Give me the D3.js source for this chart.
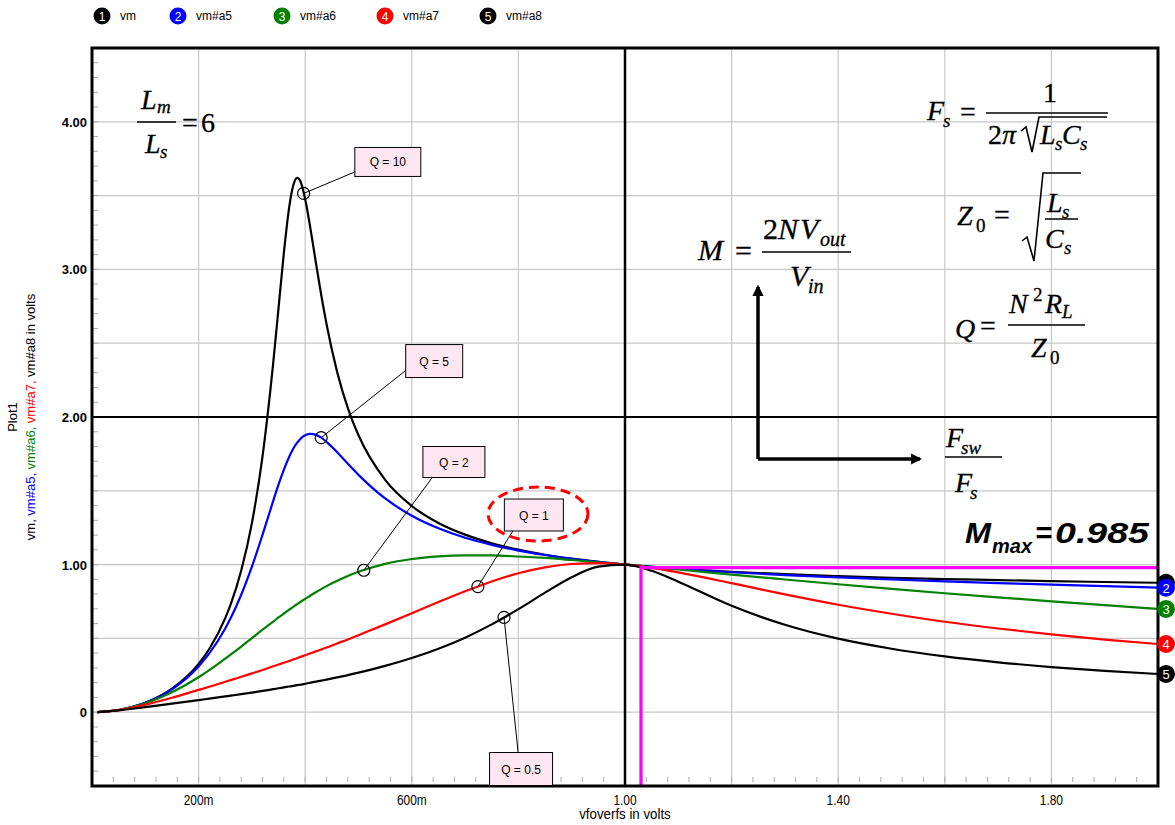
<!DOCTYPE html>
<html><head><meta charset="utf-8">
<script src="https://cdn.jsdelivr.net/npm/d3@7"></script>
<style>body{margin:0;background:#fff} svg{display:block}</style>
</head><body><svg id="c" width="1175" height="825" font-family="'Liberation Sans',Arial,sans-serif"></svg>
<script>
// ---- data ----
const fn = [0.01,0.05,0.1,0.15,0.2,0.22,0.25,0.26,0.28,0.3,0.32,0.34,0.35,0.36,0.37,0.375,0.38,0.385,0.39,0.4,0.41,0.42,0.43,0.44,0.46,0.48,0.5,0.55,0.6,0.65,0.7,0.75,0.8,0.85,0.9,0.95,1.0,1.05,1.1,1.2,1.3,1.4,1.5,1.6,1.7,1.8,1.9,2.0];
const vm   = [0.001,0.015,0.064,0.159,0.327,0.428,0.637,0.729,0.960,1.281,1.735,2.366,2.739,3.113,3.422,3.530,3.596,3.621,3.605,3.476,3.273,3.047,2.828,2.630,2.304,2.060,1.876,1.574,1.397,1.282,1.203,1.145,1.101,1.067,1.040,1.018,1.000,0.985,0.972,0.951,0.935,0.922,0.911,0.902,0.895,0.888,0.882,0.877];
const vmA5 = [0.001,0.015,0.064,0.155,0.310,0.398,0.567,0.636,0.796,0.986,1.203,1.432,1.543,1.644,1.731,1.768,1.800,1.826,1.848,1.876,1.885,1.879,1.860,1.832,1.761,1.683,1.608,1.448,1.331,1.246,1.182,1.134,1.095,1.065,1.039,1.018,1.000,0.985,0.971,0.948,0.929,0.913,0.900,0.887,0.875,0.865,0.854,0.844];
const vmA6 = [0.001,0.015,0.060,0.135,0.237,0.285,0.363,0.390,0.445,0.502,0.559,0.614,0.642,0.668,0.695,0.707,0.720,0.732,0.745,0.768,0.791,0.813,0.834,0.854,0.890,0.923,0.951,1.005,1.038,1.056,1.063,1.062,1.055,1.045,1.031,1.016,1.000,0.983,0.967,0.932,0.899,0.867,0.836,0.806,0.778,0.751,0.725,0.700];
const vmA7 = [0.001,0.014,0.051,0.098,0.151,0.172,0.206,0.217,0.240,0.263,0.286,0.311,0.323,0.335,0.347,0.354,0.360,0.366,0.373,0.386,0.399,0.412,0.425,0.438,0.466,0.493,0.522,0.595,0.670,0.746,0.819,0.886,0.941,0.981,1.004,1.010,1.000,0.978,0.947,0.874,0.798,0.728,0.667,0.613,0.567,0.527,0.492,0.462];
const vmA8 = [0.001,0.012,0.035,0.058,0.082,0.092,0.107,0.112,0.122,0.133,0.144,0.156,0.162,0.168,0.174,0.177,0.180,0.183,0.186,0.193,0.200,0.207,0.214,0.221,0.236,0.251,0.268,0.314,0.367,0.430,0.505,0.595,0.698,0.810,0.915,0.986,1.000,0.958,0.884,0.721,0.592,0.498,0.430,0.378,0.338,0.306,0.280,0.259];
const seriesNames  = ["vm","vm#a5","vm#a6","vm#a7","vm#a8"];
const seriesColors = ["#000000","#0000ff","#008000","#ff0000","#000000"];
const seriesValues = [vm, vmA5, vmA6, vmA7, vmA8];
const xTickValues = [0.2,0.6,1.0,1.4,1.8];
const xTickLabels = ["200m","600m","1.00","1.40","1.80"];
const yTickValues = [0,1,2,3,4];
const yTickLabels = ["0","1.00","2.00","3.00","4.00"];
const qLabels  = ["Q = 10","Q = 5","Q = 2","Q = 1","Q = 0.5"];
const qPointX  = [0.397,0.43,0.51,0.724,0.773];
const qBoxX    = [0.555,0.642,0.679,0.829,0.805];
const qBoxY    = [3.728,2.379,1.695,1.336,-0.385];
const mMaxLevel = 0.98, mMaxFreq = 1.03;

// ---- layout ----
const svg = d3.select("#c");
const L = 92, R = 1158, T = 48, B = 786;
const x = d3.scaleLinear([0, 2], [L, R]);
const y = d3.scaleLinear([-0.5, 4.5], [B, T]);
svg.append("rect").attr("width",1175).attr("height",825).attr("fill","#fff");

const defs = svg.append("defs");
defs.append("clipPath").attr("id","clip").append("rect").attr("x",L).attr("y",T).attr("width",R-L).attr("height",B-T);
defs.append("marker").attr("id","arr").attr("viewBox","0 0 10 10").attr("refX",8).attr("refY",5)
  .attr("markerWidth",3.2).attr("markerHeight",3.2).attr("orient","auto")
  .append("path").attr("d","M0,0 L10,5 L0,10 z").attr("fill","#000");

// grid
const g = svg.append("g");
const vgrid = d3.range(1, 10).map(i => i * 0.2).filter(v => Math.abs(v - 1) > 1e-6);
g.selectAll(".vg").data(vgrid).join("line").attr("x1",d=>x(d)).attr("x2",d=>x(d)).attr("y1",T).attr("y2",B).attr("stroke","#c8c8c8").attr("stroke-width",1.2);
const hgrid = d3.range(0, 9).map(i => i * 0.5).filter(v => Math.abs(v - 2) > 1e-6);
g.selectAll(".hg").data(hgrid).join("line").attr("y1",d=>y(d)).attr("y2",d=>y(d)).attr("x1",L).attr("x2",R).attr("stroke","#c8c8c8").attr("stroke-width",1.2);

// minor ticks
const yMinor = d3.range(-4, 45).map(i => i * 0.1);
g.selectAll(".ym").data(yMinor).join("line").attr("x1",L).attr("x2",L+6).attr("y1",d=>y(d)).attr("y2",d=>y(d)).attr("stroke","#aaa").attr("stroke-width",1);
const xMinor = d3.range(1, 50).map(i => i * 0.04);
g.selectAll(".xm").data(xMinor).join("line").attr("x1",d=>x(d)).attr("x2",d=>x(d)).attr("y1",B-9).attr("y2",B-4).attr("stroke","#aaa").attr("stroke-width",1);

// black cross lines
g.append("line").attr("x1",x(1)).attr("x2",x(1)).attr("y1",T).attr("y2",B).attr("stroke","#000").attr("stroke-width",2.5);
g.append("line").attr("x1",L).attr("x2",R).attr("y1",y(2)).attr("y2",y(2)).attr("stroke","#000").attr("stroke-width",2.2);

// curves
const plot = svg.append("g").attr("clip-path","url(#clip)");
const line = d3.line().x(d=>x(d[0])).y(d=>y(d[1])).curve(d3.curveMonotoneX);
seriesValues.forEach((vals, i) => {
  plot.append("path").datum(fn.map((f, j) => [f, vals[j]]))
    .attr("d", line).attr("fill","none").attr("stroke", seriesColors[i]).attr("stroke-width",2.2);
});

// magenta Mmax line
plot.append("path").attr("d", `M${x(mMaxFreq)},${y(-0.5)} V${y(mMaxLevel)} H${x(2)}`)
  .attr("fill","none").attr("stroke","#ff00ff").attr("stroke-width",3.2);

// frame
svg.append("rect").attr("x",L).attr("y",T).attr("width",R-L).attr("height",B-T).attr("fill","none").attr("stroke","#000").attr("stroke-width",3);

// axis labels
svg.selectAll(".yt").data(yTickValues).join("text").attr("x",87).attr("y",d=>y(d)+5)
  .attr("text-anchor","end").attr("font-size",13).attr("font-weight","bold").text((d,i)=>yTickLabels[i]);
svg.selectAll(".xt").data(xTickValues).join("text").attr("x",d=>x(d)).attr("y",805)
  .attr("text-anchor","middle").attr("font-size",14)
  .attr("transform",d=>`translate(${x(d)},0) scale(0.85,1) translate(${-x(d)},0)`).text((d,i)=>xTickLabels[i]);
svg.append("text").attr("x",x(1)).attr("y",819).attr("text-anchor","middle").attr("font-size",14)
  .attr("transform",`translate(${x(1)},0) scale(0.95,1) translate(${-x(1)},0)`).text("vfoverfs in volts");
svg.append("text").attr("transform",`translate(17,${(T+B)/2}) rotate(-90)`).attr("text-anchor","middle").attr("font-size",13).text("Plot1");
const yt = svg.append("text").attr("transform",`translate(35,${(T+B)/2}) rotate(-90)`).attr("text-anchor","middle").attr("font-size",13);
const titleParts = [["vm, ","#000"],["vm#a5, ","#0000ff"],["vm#a6, ","#008000"],["vm#a7, ","#ff0000"],["vm#a8 in volts","#000"]];
titleParts.forEach(p => yt.append("tspan").attr("fill",p[1]).text(p[0]));

// legend
const legX = [102,178,282,385,488];
seriesNames.forEach((n,i) => {
  svg.append("circle").attr("cx",legX[i]).attr("cy",16).attr("r",8.5).attr("fill",seriesColors[i]);
  svg.append("text").attr("x",legX[i]).attr("y",20.5).attr("text-anchor","middle").attr("fill","#fff").attr("font-size",12).text(i+1);
  svg.append("text").attr("x",legX[i]+18).attr("y",20).attr("font-size",12).text(n);
});

// end markers (marker 1 sits behind marker 2; its number is hidden)
seriesValues.forEach((vals,i) => {
  const cy = y(vals[vals.length-1]);
  svg.append("circle").attr("cx",1166).attr("cy",cy).attr("r",9).attr("fill",seriesColors[i]);
  if (i > 0) svg.append("text").attr("x",1166).attr("y",cy+5).attr("text-anchor","middle").attr("fill","#fff").attr("font-size",13).text(i+1);
});

// Q annotations
function interp(vals, xv){ for(let j=0;j<fn.length-1;j++){ if(xv>=fn[j]&&xv<=fn[j+1]){const t=(xv-fn[j])/(fn[j+1]-fn[j]);return vals[j]+t*(vals[j+1]-vals[j]);} } return 0; }
const boxW=[66,57,62,59,63], boxH=[29,33,31,32,33];
const anchor=[[-33,10],[-28,9],[-22,16],[-21,16],[-3,-17]];
qLabels.forEach((lab,i)=>{
  const px=x(qPointX[i]), py=y(interp(seriesValues[i],qPointX[i]));
  const bx=x(qBoxX[i]), by=y(qBoxY[i]);
  svg.append("line").attr("x1",px).attr("y1",py).attr("x2",bx+anchor[i][0]).attr("y2",by+anchor[i][1]).attr("stroke","#000").attr("stroke-width",1);
  svg.append("circle").attr("cx",px).attr("cy",py).attr("r",6).attr("fill","none").attr("stroke","#000").attr("stroke-width",1.2);
  svg.append("rect").attr("x",bx-boxW[i]/2).attr("y",by-boxH[i]/2).attr("width",boxW[i]).attr("height",boxH[i]).attr("fill","#fde6ef").attr("stroke","#000").attr("stroke-width",1);
  svg.append("text").attr("x",bx).attr("y",by+4.5).attr("text-anchor","middle").attr("font-size",12).text(lab);
});
svg.append("ellipse").attr("cx",538).attr("cy",514).attr("rx",50).attr("ry",27).attr("fill","none").attr("stroke","#ff0000").attr("stroke-width",3).attr("stroke-dasharray","10,6");

// math annotations
const serif = "'Liberation Serif','Times New Roman',serif";
function T_(t,xx,yy,size,ital){ svg.append("text").attr("x",xx).attr("y",yy).attr("font-family",serif).attr("font-size",size).attr("font-style",ital?"italic":"normal").attr("stroke","#000").attr("stroke-width",0.3).text(t); }
function bar(x1,x2,yy){ svg.append("line").attr("x1",x1).attr("x2",x2).attr("y1",yy).attr("y2",yy).attr("stroke","#000").attr("stroke-width",1.6); }
function rad(pts){ svg.append("path").attr("d","M"+pts.map(p=>p.join(",")).join("L")).attr("fill","none").attr("stroke","#000").attr("stroke-width",1.6); }
// Lm/Ls = 6
T_("L",141,109,28,true); T_("m",157,113,19,true); bar(137,176,122); T_("L",145,153,28,true); T_("s",160,158,19,true);
T_("=",182,132,28,false); T_("6",201,132,28,false);
// Fs
T_("F",927,120,28,true); T_("s",943,127,19,true); T_("=",960,121,28,false); bar(986,1108,113); T_("1",1043,102,28,false);
T_("2",988,144,28,false); T_("π",1002,144,28,true);
rad([[1021,131],[1026,127],[1032,152],[1039,117],[1107,117]]);
T_("L",1040,144,28,true); T_("s",1055,150,19,true); T_("C",1062,144,28,true); T_("s",1080,150,19,true);
// Z0
T_("Z",957,225,28,true); T_("0",976,232,19,false); T_("=",994,224,28,false);
rad([[1022,241],[1027,237],[1034,261],[1043,173],[1081,173]]);
T_("L",1047,212,28,true); T_("s",1062,218,19,true); bar(1045,1078,219); T_("C",1045,248,28,true); T_("s",1064,254,19,true);
// Q
T_("Q",955,338,28,true); T_("=",980,335,28,false); bar(1008,1085,325);
T_("N",1009,313,28,true); T_("2",1033,301,19,false); T_("R",1045,313,28,true); T_("L",1062,318,19,true);
T_("Z",1031,357,28,true); T_("0",1050,364,19,false);
// M
T_("M",698,260,30,true); T_("=",735,261,30,false); bar(762,851,252);
T_("2",763,239,30,false); T_("N",778,239,30,true); T_("V",800,239,30,true); T_("out",820,246,20,true);
T_("V",790,286,30,true); T_("in",808,293,20,true);
// Fsw/Fs
T_("F",946,447,28,true); T_("sw",961,454,19,true); bar(945,1002,457); T_("F",955,492,28,true); T_("s",970,499,19,true);
// arrows
svg.append("path").attr("d","M758,459 L758,287").attr("stroke","#000").attr("stroke-width",3.5).attr("fill","none").attr("marker-end","url(#arr)");
svg.append("path").attr("d","M758,459 L920,459").attr("stroke","#000").attr("stroke-width",3.5).attr("fill","none").attr("marker-end","url(#arr)");
// Mmax
function B_(t,xx,yy,size,len){ const e=svg.append("text").attr("x",xx).attr("y",yy).attr("font-size",size).attr("font-weight","bold").attr("font-style","italic").text(t); if(len) e.attr("textLength",len).attr("lengthAdjust","spacingAndGlyphs"); }
B_("M",965,543,30,26); B_("max",992,553,21,40); B_("=",1035,543,30,17); B_("0.985",1055,543,30,94);
</script></body></html>
